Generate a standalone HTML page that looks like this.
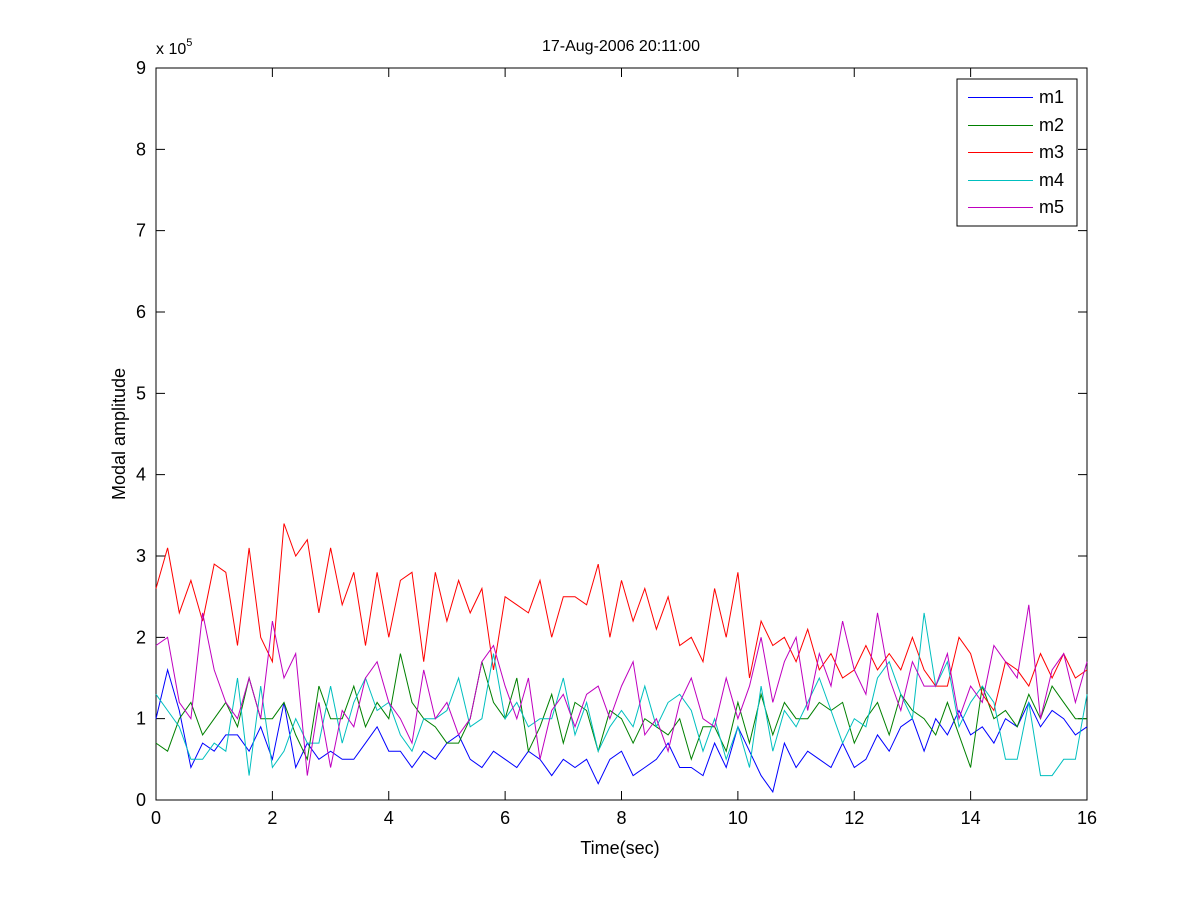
<!DOCTYPE html>
<html><head><meta charset="utf-8"><style>
body{margin:0;background:#fff;}
svg text{font-family:"Liberation Sans",sans-serif;fill:#000;}
</style></head><body>
<svg id="chart" width="1200" height="900">
<rect x="0" y="0" width="1200" height="900" fill="#fff"/>
<rect x="156" y="68" width="931" height="732" fill="#fff" stroke="#000" stroke-width="1"/>
<g id="ticks"></g>
<g id="series"></g>
<text x="621" y="51" font-size="16" text-anchor="middle">17-Aug-2006 20:11:00</text>
<text x="620" y="854" font-size="18" text-anchor="middle">Time(sec)</text>
<text x="125" y="434" font-size="18" text-anchor="middle" transform="rotate(-90 125 434)">Modal amplitude</text>
<text x="156" y="54" font-size="16">x 10<tspan dy="-8" font-size="11">5</tspan></text>
<g>
<rect x="957" y="79" width="120" height="147" fill="#fff" stroke="#000"/>
<g id="legend"></g>
</g>
</svg>
<script>
const xTicks=[0,2,4,6,8,10,12,14,16];
const yTicks=[0,1,2,3,4,5,6,7,8,9];
const names=["m1","m2","m3","m4","m5"];
const colors=["#0000ff","#008000","#ff0000","#00bfbf","#bf00bf"];
const m1=[1.0,1.6,1.1,0.4,0.7,0.6,0.8,0.8,0.6,0.9,0.5,1.2,0.4,0.7,0.5,0.6,0.5,0.5,0.7,0.9,0.6,0.6,0.4,0.6,0.5,0.7,0.8,0.5,0.4,0.6,0.5,0.4,0.6,0.5,0.3,0.5,0.4,0.5,0.2,0.5,0.6,0.3,0.4,0.5,0.7,0.4,0.4,0.3,0.7,0.4,0.9,0.6,0.3,0.1,0.7,0.4,0.6,0.5,0.4,0.7,0.4,0.5,0.8,0.6,0.9,1.0,0.6,1.0,0.8,1.1,0.8,0.9,0.7,1.0,0.9,1.2,0.9,1.1,1.0,0.8,0.9];
const m2=[0.7,0.6,1.0,1.2,0.8,1.0,1.2,0.9,1.5,1.0,1.0,1.2,0.8,0.5,1.4,1.0,1.0,1.4,0.9,1.2,1.0,1.8,1.2,1.0,0.9,0.7,0.7,1.0,1.7,1.2,1.0,1.5,0.6,0.9,1.3,0.7,1.2,1.1,0.6,1.1,1.0,0.7,1.0,0.9,0.8,1.0,0.5,0.9,0.9,0.6,1.2,0.7,1.3,0.8,1.2,1.0,1.0,1.2,1.1,1.2,0.7,1.0,1.2,0.8,1.3,1.1,1.0,0.8,1.2,0.8,0.4,1.4,1.0,1.1,0.9,1.3,1.0,1.4,1.2,1.0,1.0];
const m3=[2.6,3.1,2.3,2.7,2.2,2.9,2.8,1.9,3.1,2.0,1.7,3.4,3.0,3.2,2.3,3.1,2.4,2.8,1.9,2.8,2.0,2.7,2.8,1.7,2.8,2.2,2.7,2.3,2.6,1.6,2.5,2.4,2.3,2.7,2.0,2.5,2.5,2.4,2.9,2.0,2.7,2.2,2.6,2.1,2.5,1.9,2.0,1.7,2.6,2.0,2.8,1.5,2.2,1.9,2.0,1.7,2.1,1.6,1.8,1.5,1.6,1.9,1.6,1.8,1.6,2.0,1.6,1.4,1.4,2.0,1.8,1.3,1.1,1.7,1.6,1.4,1.8,1.5,1.8,1.5,1.6];
const m4=[1.3,1.1,0.9,0.5,0.5,0.7,0.6,1.5,0.3,1.4,0.4,0.6,1.0,0.7,0.7,1.4,0.7,1.2,1.5,1.1,1.2,0.8,0.6,1.0,1.0,1.1,1.5,0.9,1.0,1.8,1.0,1.2,0.9,1.0,1.0,1.5,0.8,1.2,0.6,0.9,1.1,0.9,1.4,0.9,1.2,1.3,1.1,0.6,1.0,0.5,0.9,0.4,1.4,0.6,1.1,0.9,1.2,1.5,1.1,0.7,1.0,0.9,1.5,1.7,1.3,1.0,2.3,1.4,1.7,0.9,1.2,1.4,1.2,0.5,0.5,1.2,0.3,0.3,0.5,0.5,1.3];
const m5=[1.9,2.0,1.2,1.0,2.3,1.6,1.2,1.0,1.5,1.0,2.2,1.5,1.8,0.3,1.2,0.4,1.1,0.9,1.5,1.7,1.2,1.0,0.7,1.6,1.0,1.2,0.8,1.0,1.7,1.9,1.4,1.0,1.5,0.5,1.1,1.3,0.9,1.3,1.4,1.0,1.4,1.7,0.8,1.0,0.6,1.2,1.5,1.0,0.9,1.5,1.0,1.4,2.0,1.2,1.7,2.0,1.1,1.8,1.4,2.2,1.6,1.3,2.3,1.5,1.1,1.7,1.4,1.4,1.8,1.0,1.4,1.2,1.9,1.7,1.5,2.4,1.0,1.6,1.8,1.2,1.7];
const tMax=16;
const NS="http://www.w3.org/2000/svg";
const X=v=>156+v/16*931;
const Y=v=>800-v/9*732;
function mk(tag,attrs,parent){const e=document.createElementNS(NS,tag);for(const k in attrs)e.setAttribute(k,attrs[k]);parent.appendChild(e);return e;}
const tg=document.getElementById('ticks');
xTicks.forEach(t=>{
  const l=mk('path',{d:`M${X(t)},800v-9M${X(t)},68v9`,stroke:'#000',fill:'none'},tg);
  
  
  const tx=mk('text',{x:X(t),y:824,'font-size':18,'text-anchor':'middle'},tg);
  tx.textContent=t;
  
  
});
yTicks.forEach(t=>{
  const l=mk('path',{d:`M156,${Y(t)}h9M1087,${Y(t)}h-9`,stroke:'#000',fill:'none'},tg);
  
  
  const tx=mk('text',{x:146,y:Y(t)+6,'font-size':18,'text-anchor':'end'},tg);
  tx.textContent=t;
  
  
});
const sg=document.getElementById('series');
[m1,m2,m3,m4,m5].forEach((arr,si)=>{
  const dt=tMax/(arr.length-1);
  const pts=arr.map((v,i)=>X(i*dt).toFixed(1)+','+Y(v).toFixed(1)).join(' ');
  const p=mk('polyline',{points:pts,fill:'none',stroke:colors[si],'stroke-width':1},sg);
  
  
});
const lg=document.getElementById('legend');
names.forEach((n,i)=>{
  const y=Math.round(97+i*27.5);
  const l=mk('rect',{x:968,y:y,width:65,height:1,fill:colors[i]},lg);
  
  
  const t=mk('text',{x:1039,y:y+6,'font-size':18},lg);
  t.textContent=n;
  
  
});
</script>
</body></html>
